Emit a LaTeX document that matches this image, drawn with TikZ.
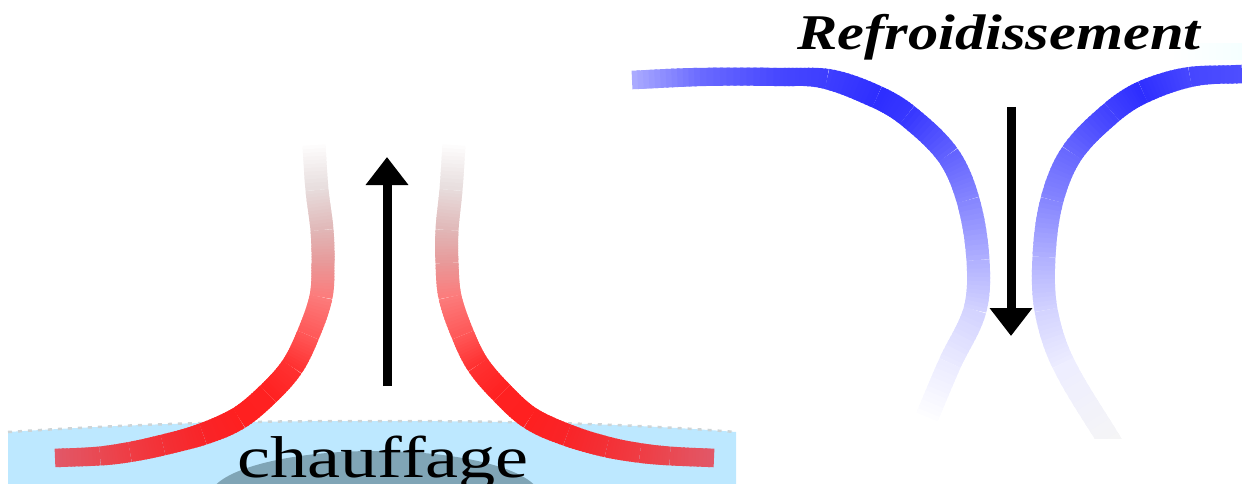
\documentclass[tikz,border=0pt]{standalone}
\usepackage{fontspec}
\setmainfont{Liberation Serif}
\usetikzlibrary{arrows.meta}
\definecolor{waterblue}{RGB}{189,232,255}
\definecolor{deepwater}{RGB}{128,165,182}
\definecolor{foamgrey}{RGB}{205,212,214}
\pgfdeclareradialshading{depthpool}{\pgfpointorigin}{%
  color(0bp)=(deepwater); color(30bp)=(deepwater); color(38bp)=(waterblue!50!deepwater);
  color(46bp)=(waterblue); color(50bp)=(waterblue)}

% Ribbon: a Catmull-Rom curve through x/y/r/g/b stations, its colour varying along the length.
% The first and last stations are listed twice so that the ends have tangents.
% Its width is 18 on horizontal runs, growing to 23 once the curve leaves the horizontal.
\newcommand{\ribbon}[1]{%
  \xdef\rbCount{0}%
  \xdef\xa{0}\xdef\ya{0}\xdef\xb{0}\xdef\yb{0}\xdef\xc{0}\xdef\yc{0}%
  \xdef\rb{0}\xdef\gb{0}\xdef\bb{0}\xdef\rc{0}\xdef\gc{0}\xdef\bc{0}%
  \foreach \px/\py/\pr/\pg/\pb in {#1}{%
    \pgfmathtruncatemacro{\rbNext}{\rbCount+1}\xdef\rbCount{\rbNext}%
    \ifnum\rbCount>3\relax
      \pgfmathsetmacro{\lenBC}{veclen(\xc-\xb,\yc-\yb)/3}%
      \pgfmathsetmacro{\lenAC}{veclen(\xc-\xa,\yc-\ya)}%
      \pgfmathsetmacro{\lenBD}{veclen(\px-\xb,\py-\yb)}%
      \pgfmathsetmacro{\cax}{\xb+(\xc-\xa)/\lenAC*\lenBC}\pgfmathsetmacro{\cay}{\yb+(\yc-\ya)/\lenAC*\lenBC}%
      \pgfmathsetmacro{\cbx}{\xc-(\px-\xb)/\lenBD*\lenBC}\pgfmathsetmacro{\cby}{\yc-(\py-\yb)/\lenBD*\lenBC}%
      \foreach \i in {0,...,11}{%
        \pgfmathsetmacro{\tA}{\i/12}%
        \pgfmathsetmacro{\tB}{min(1,(\i+1.5)/12)}%
        \pgfmathsetmacro{\uA}{1-\tA}\pgfmathsetmacro{\uB}{1-\tB}%
        \pgfmathsetmacro{\pax}{\uA*\uA*\uA*\xb+3*\uA*\uA*\tA*\cax+3*\uA*\tA*\tA*\cbx+\tA*\tA*\tA*\xc}%
        \pgfmathsetmacro{\pay}{\uA*\uA*\uA*\yb+3*\uA*\uA*\tA*\cay+3*\uA*\tA*\tA*\cby+\tA*\tA*\tA*\yc}%
        \pgfmathsetmacro{\pbx}{\uB*\uB*\uB*\xb+3*\uB*\uB*\tB*\cax+3*\uB*\tB*\tB*\cbx+\tB*\tB*\tB*\xc}%
        \pgfmathsetmacro{\pby}{\uB*\uB*\uB*\yb+3*\uB*\uB*\tB*\cay+3*\uB*\tB*\tB*\cby+\tB*\tB*\tB*\yc}%
        \pgfmathsetmacro{\dxx}{\pbx-\pax}\pgfmathsetmacro{\dyy}{\pby-\pay}%
        \pgfmathsetmacro{\wid}{18+5*min(1,2.5*abs(\dyy)/(veclen(\dxx,\dyy)+0.001))}%
        \pgfmathtruncatemacro{\mr}{\uA*\rb+\tA*\rc}%
        \pgfmathtruncatemacro{\mg}{\uA*\gb+\tA*\gc}%
        \pgfmathtruncatemacro{\mb}{\uA*\bb+\tA*\bc}%
        \definecolor{ribboncolor}{RGB}{\mr,\mg,\mb}%
        \draw[ribbonstroke,line width=\wid pt] (\pax,\pay) -- (\pbx,\pby);
      }%
    \fi
    \xdef\xa{\xb}\xdef\ya{\yb}%
    \xdef\xb{\xc}\xdef\yb{\yc}\xdef\rb{\rc}\xdef\gb{\gc}\xdef\bb{\bc}%
    \xdef\xc{\px}\xdef\yc{\py}\xdef\rc{\pr}\xdef\gc{\pg}\xdef\bc{\pb}%
  }%
}
\tikzset{
  ribbonstroke/.style={line cap=butt,draw=ribboncolor},
  flowarrow/.style={line width=9pt,-{Triangle[length=28pt,width=41pt]},black},
  bigword/.style={inner sep=0pt,anchor=base west}
}
\begin{document}
\begin{tikzpicture}[x=1pt,y=-1pt]
\useasboundingbox (0,0) rectangle (1242,484);
\clip (0,0) rectangle (1242,484);

% Heated liquid surface
\fill[waterblue] (8,432) .. controls (150,423) and (250,421) .. (372,421)
  .. controls (500,421) and (620,423) .. (736,432) -- (736,484) -- (8,484) -- cycle;
\draw[foamgrey,line width=2.5pt,dash pattern=on 4pt off 6pt]
  (8,432) .. controls (150,423) and (250,421) .. (372,421)
  .. controls (500,421) and (620,423) .. (736,432);
\shade[shading=depthpool] (375,497) ellipse [x radius=165,y radius=46];
\node[bigword,font=\fontsize{59}{59}\selectfont,xscale=1.26] (heatword) at (237,477) {chauffage};

% Faint haze near the top right corner
\shade[left color=white,right color=white!96!cyan] (1170,44) rectangle (1242,60);

% Rising plumes
\ribbon{55/458/226/88/104,55/458/226/88/104,100/456/234/72/82,130/452/240/60/68,163/445/244/48/54,203/434/250/36/40,
  239/418/255/32/32,268/394/255/34/34,292/367/255/50/50,308/335/255/90/90,
  321/297/252/125/125,323/263/232/155/155,322/230/225/185/185,317/190/232/222/222,
  314/145/255/255/255,314/145/255/255/255}
\ribbon{714/458/226/88/104,714/458/226/88/104,670/456/234/72/82,640/453/240/60/68,607/447/244/48/54,567/435/250/36/40,
  530/418/255/32/32,502/393/255/34/34,478/365/255/50/50,463/335/255/90/90,
  450/297/252/125/125,447/263/232/155/155,447/230/225/185/185,451/190/232/222/222,
  454/145/255/255/255,454/145/255/255/255}

% Descending plumes
\ribbon{632/80/170/170/255,632/80/170/170/255,700/77/105/105/255,780/77/70/70/255,
  827/79/62/62/255,877/97/46/46/255,907/115/56/56/255,948/155/100/100/255,
  968/200/135/135/255,978/260/178/178/255,975/310/212/212/255,950/363/236/236/255,
  927/417/255/255/255,927/417/255/255/255}
\begin{scope}
  \clip (1000,0) rectangle (1242,438);
  \ribbon{1242/74/78/78/255,1242/74/78/78/255,1190/77/70/70/255,1143/92/46/46/255,
    1112/112/66/66/255,1072/153/105/105/255,1052/200/135/135/255,
    1044/257/178/178/255,1046/310/212/212/255,1063/363/238/238/255,
    1112/445/246/246/246,1112/445/246/246/246}
\end{scope}

% Flow direction arrows
\coordinate (riseStart) at (387,386);
\coordinate (riseEnd) at (387,157);
\coordinate (sinkStart) at (1011,107);
\coordinate (sinkEnd) at (1011,336);
\draw[flowarrow] (riseStart) -- (riseEnd);
\draw[flowarrow] (sinkStart) -- (sinkEnd);

\node[bigword,font=\fontsize{50}{50}\selectfont\bfseries\itshape,xscale=1.21] (coolword) at (797,50) {Refroidissement};
\end{tikzpicture}
\end{document}
